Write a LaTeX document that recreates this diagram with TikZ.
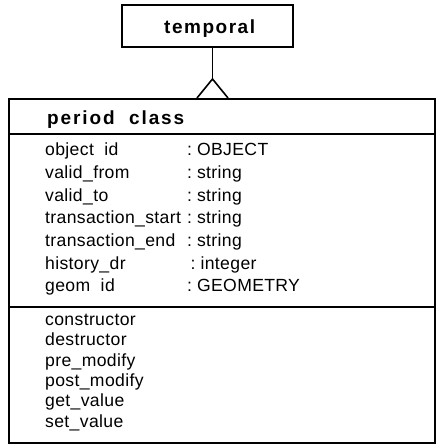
\documentclass[tikz,border=0pt]{standalone}
\usepackage{fontspec}
\setmainfont{Liberation Sans}
\newfontfamily\boldhead[LetterSpace=8]{Liberation Sans Bold}
\newfontfamily\boldname[LetterSpace=10]{Liberation Sans Bold}
\newfontfamily\attrfont[LetterSpace=2]{Liberation Sans}
\begin{document}
\begin{tikzpicture}[x=1pt,y=-1pt,
  boxline/.style={draw=black,line width=2.2pt},
  sepline/.style={draw=black,line width=2pt},
  headtxt/.style={inner sep=0pt,anchor=base west,font=\boldhead\fontsize{19}{21}\selectfont},
  attr/.style={inner sep=0pt,anchor=base west,font=\attrfont\fontsize{17.6}{20}\selectfont},
  inherit/.style={draw=black,line width=1.6pt,line join=miter}
]
\useasboundingbox (0,0) rectangle (436,446);
% classes
\node[boxline,minimum width=171pt,minimum height=42pt,inner sep=0pt] (temporal) at (207.5,26) {};
\node[headtxt] (tlabel) at (164,34) {temporal};
\node[draw=black,line width=2.6pt,minimum width=426pt,minimum height=344pt,inner sep=0pt] (cls) at (222,271) {};
% inheritance
\coordinate (tfoot) at (212.5,47);
\coordinate (apex) at (212.5,79);
\coordinate (bl) at (197,98);
\coordinate (br) at (228,98);
\draw[inherit] (tfoot) -- (apex);
\draw[inherit] (bl) -- (apex) -- (br);
% compartments
\coordinate (s1l) at (9,134); \coordinate (s1r) at (435,134);
\coordinate (s2l) at (9,307); \coordinate (s2r) at (435,307);
\draw[sepline] (s1l) -- (s1r);
\draw[sepline] (s2l) -- (s2r);
\node[inner sep=0pt,anchor=base west,font=\boldname\fontsize{19}{21}\selectfont] (cname) at (47,124.5) {period\ \ class};
% attributes
\node[attr] (a1) at (45,156) {object\ \ id};
\node[attr] (a2) at (45,178.5) {valid\_from};
\node[attr] (a3) at (45,201) {valid\_to};
\node[attr] (a4) at (45,223.5) {transaction\_start};
\node[attr] (a5) at (45,246.5) {transaction\_end};
\node[attr] (a6) at (45,269) {history\_dr};
\node[attr] (a7) at (45,291.5) {geom\ \ id};
\node[attr] (t1) at (187,156) {:\hspace{5pt}OBJECT};
\node[attr] (t2) at (187,178.5) {:\hspace{5pt}string};
\node[attr] (t3) at (187,201) {:\hspace{5pt}string};
\node[attr] (t4) at (187,223.5) {:\hspace{5pt}string};
\node[attr] (t5) at (187,246.5) {:\hspace{5pt}string};
\node[attr] (t6) at (190.5,269) {:\hspace{5pt}integer};
\node[attr] (t7) at (187,291.5) {:\hspace{5pt}GEOMETRY};
% operations
\node[attr] (m1) at (45,325) {constructor};
\node[attr] (m2) at (45,345.5) {destructor};
\node[attr] (m3) at (45,366) {pre\_modify};
\node[attr] (m4) at (45,386.5) {post\_modify};
\node[attr] (m5) at (45,406.5) {get\_value};
\node[attr] (m6) at (45,427) {set\_value};
\end{tikzpicture}
\end{document}
